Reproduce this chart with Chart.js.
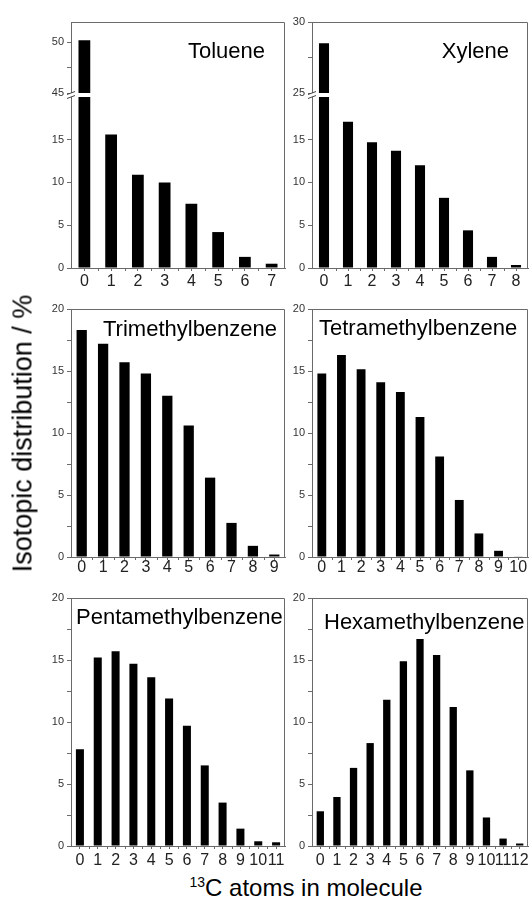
<!DOCTYPE html>
<html><head><meta charset="utf-8">
<script src="https://cdn.jsdelivr.net/npm/chart.js@4.4.0/dist/chart.umd.min.js"></script>
<style>
html,body{margin:0;padding:0;background:#fff;}
body{width:532px;height:899px;position:relative;overflow:hidden;font-family:"Liberation Sans",Arial,sans-serif;color:#000;}
canvas{position:absolute;}
.name{position:absolute;font-size:22px;line-height:22px;white-space:nowrap;}
#ytitle{position:absolute;font-size:27px;line-height:27px;width:320px;text-align:center;left:-137px;top:420px;transform:rotate(-90deg);white-space:nowrap;}
#xtitle{position:absolute;font-size:24px;line-height:24px;left:0;width:612px;text-align:center;top:876px;white-space:nowrap;}
#xtitle span{font-size:14px;position:relative;top:-9px;}
</style></head><body>
<script>
// ---- data (isotopic distribution, %) ----
const toluenePct      = [50.2, 15.6, 10.9, 10.0, 7.5, 4.2, 1.3, 0.5];
const xylenePct       = [28.5, 17.1, 14.7, 13.7, 12.0, 8.2, 4.4, 1.3, 0.35];
const trimethylPct    = [18.3, 17.2, 15.7, 14.8, 13.0, 10.6, 6.4, 2.75, 0.9, 0.2];
const tetramethylPct  = [14.8, 16.3, 15.15, 14.1, 13.3, 11.3, 8.1, 4.6, 1.9, 0.5, 0.05];
const pentamethylPct  = [7.8, 15.2, 15.7, 14.7, 13.6, 11.9, 9.7, 6.5, 3.5, 1.4, 0.38, 0.3];
const hexamethylPct   = [2.8, 3.95, 6.3, 8.3, 11.8, 14.9, 16.7, 15.4, 11.2, 6.1, 2.3, 0.6, 0.2];
const panelNames = ['Toluene', 'Xylene', 'Trimethylbenzene', 'Tetramethylbenzene', 'Pentamethylbenzene', 'Hexamethylbenzene'];
const yAxisTitle = 'Isotopic distribution / %';
const xAxisTitleSup = '13';
const xAxisTitleRest = 'C atoms in molecule';
const atomLabels = n => Array.from({length: n}, (_, i) => String(i));

// ---- layout / style ----
const AXIS = '#6a6a6a';
Chart.defaults.font.family = '"Liberation Sans", Arial, sans-serif';
const BREAK_Y = 93;
const panels = [
  {data: toluenePct,     box: [71, 22, 285, 268],  lo: [0, 20.45], hi: [45, 52], bar: 0.44, xpad: 1,  name: {right: 267, top: 40.4}},
  {data: xylenePct,      box: [312, 22, 528, 268], lo: [0, 20.45], hi: [25, 30], bar: 0.42, xpad: 1,  name: {right: 23, top: 40.4}},
  {data: trimethylPct,   box: [71, 309, 285, 557], lo: [0, 20], bar: 0.48, xpad: -2, name: {left: 103, top: 318.4}},
  {data: tetramethylPct, box: [312, 309, 528, 557], lo: [0, 20], bar: 0.45, xpad: -2, name: {left: 319, top: 317.4}},
  {data: pentamethylPct, box: [71, 598, 285, 846], lo: [0, 20], bar: 0.45, xpad: 2,  name: {left: 76, top: 606.4}},
  {data: hexamethylPct,  box: [312, 598, 528, 846], lo: [0, 20], bar: 0.44, xpad: 2,  name: {left: 324, top: 611.4}}
];
const ML = 45, MT = 10, MR = 4, MB = 26;

const clipToScale = {
  id: 'clipToScale',
  beforeDatasetDraw(chart, args) {
    const ys = args.meta.yScale, a = chart.chartArea, c = chart.ctx;
    c.save(); c.beginPath();
    c.rect(a.left, ys.top, a.right - a.left, ys.bottom - ys.top);
    c.clip();
  },
  afterDatasetDraw(chart) { chart.ctx.restore(); }
};
const decor = {
  id: 'decor',
  afterDatasetsDraw(chart) {
    const {ctx, chartArea: a, scales} = chart;
    const x = scales.x;
    ctx.save();
    ctx.strokeStyle = AXIS; ctx.lineWidth = 1;
    const n = x.getLabels().length;
    ctx.beginPath();
    for (let i = 0; i < n - 1; i++) {
      const px = Math.round((x.getPixelForValue(i) + x.getPixelForValue(i + 1)) / 2) + 0.5;
      ctx.moveTo(px, a.bottom); ctx.lineTo(px, a.bottom + 3);
    }
    ctx.stroke();
    if (scales.yHi) {
      const b = Math.round(scales.yLo.top);
      ctx.fillStyle = '#fff';
      ctx.fillRect(a.left - 1, b, a.right - a.left, 4);
      ctx.strokeStyle = '#444';
      ctx.beginPath();
      [0, 4].forEach(d => { ctx.moveTo(a.left - 4, b + d + 1.5); ctx.lineTo(a.left + 4, b + d - 1.5); });
      ctx.stroke();
    }
    ctx.strokeStyle = AXIS;
    ctx.beginPath();
    ctx.moveTo(a.left, Math.round(a.top) + 0.5);
    ctx.lineTo(Math.round(a.right) - 0.5, Math.round(a.top) + 0.5);
    ctx.lineTo(Math.round(a.right) - 0.5, a.bottom);
    ctx.stroke();
    ctx.restore();
  }
};

function yScale(range, opts) {
  const hideTop = opts.hideTop;
  return Object.assign({
    type: 'linear', axis: 'y', position: 'left', min: range[0], max: range[1],
    afterBuildTicks: s => {
      s.ticks = s.ticks.filter(t => Math.abs(t.value / 2.5 - Math.round(t.value / 2.5)) < 1e-6 && (!hideTop || t.value < 20));
    },
    afterFit: s => { s.width = ML; },
    ticks: {stepSize: 2.5, callback: v => (Math.abs(v % 5) < 1e-6 ? String(v) : ''), font: {size: 11}, color: '#333', padding: 3},
    grid: {drawOnChartArea: false, drawTicks: true, tickLength: 4, color: AXIS},
    border: {display: true, color: AXIS}
  }, opts.extra || {});
}

panels.forEach((p, k) => {
  const [L, T, R, B] = p.box;
  const W = R - L + ML + MR, H = B - T + MT + MB;
  const cv = document.createElement('canvas');
  cv.width = W; cv.height = H;
  cv.style.left = (L - ML) + 'px'; cv.style.top = (T - MT) + 'px';
  cv.style.width = W + 'px'; cv.style.height = H + 'px';
  document.body.appendChild(cv);

  const labels = atomLabels(p.data.length);
  const scales = {
    x: {
      type: 'category', labels, offset: true,
      afterFit: s => { s.height = MB; },
      grid: {offset: false, drawOnChartArea: false, drawTicks: true, tickLength: 3, color: AXIS},
      border: {display: true, color: AXIS},
      ticks: {autoSkip: false, maxRotation: 0, minRotation: 0, font: {size: 16}, color: '#222', padding: p.xpad}
    }
  };
  const ds = {data: p.data, backgroundColor: '#000', borderWidth: 0, grouped: false,
              barPercentage: p.bar, categoryPercentage: 1};
  const datasets = [];
  if (p.hi) {
    const hiH = BREAK_Y - T, loH = B - BREAK_Y;
    scales.yHi = yScale(p.hi, {extra: {stack: 'brk', stackWeight: hiH, weight: 1}});
    scales.yLo = yScale(p.lo, {hideTop: true, extra: {stack: 'brk', stackWeight: loH, weight: 0}});
    datasets.push(Object.assign({}, ds, {yAxisID: 'yHi'}));
    datasets.push(Object.assign({}, ds, {yAxisID: 'yLo'}));
  } else {
    scales.yLo = yScale(p.lo, {});
    datasets.push(Object.assign({}, ds, {yAxisID: 'yLo'}));
  }
  new Chart(cv, {
    type: 'bar',
    data: {labels, datasets},
    options: {
      responsive: false, animation: false, devicePixelRatio: 1,
      layout: {padding: {left: 0, top: MT, right: MR, bottom: 0}},
      plugins: {legend: {display: false}, tooltip: {enabled: false}, title: {display: false}},
      scales
    },
    plugins: [clipToScale, decor]
  });

  const d = document.createElement('div');
  d.className = 'name';
  d.textContent = panelNames[k];
  d.style.top = p.name.top + 'px';
  if (p.name.right !== undefined) d.style.right = p.name.right + 'px';
  else d.style.left = p.name.left + 'px';
  document.body.appendChild(d);
});

const yt = document.createElement('div');
yt.id = 'ytitle'; yt.textContent = yAxisTitle;
document.body.appendChild(yt);
const xt = document.createElement('div');
xt.id = 'xtitle';
const sup = document.createElement('span'); sup.textContent = xAxisTitleSup;
xt.appendChild(sup); xt.appendChild(document.createTextNode(xAxisTitleRest));
document.body.appendChild(xt);
</script>
</body></html>
